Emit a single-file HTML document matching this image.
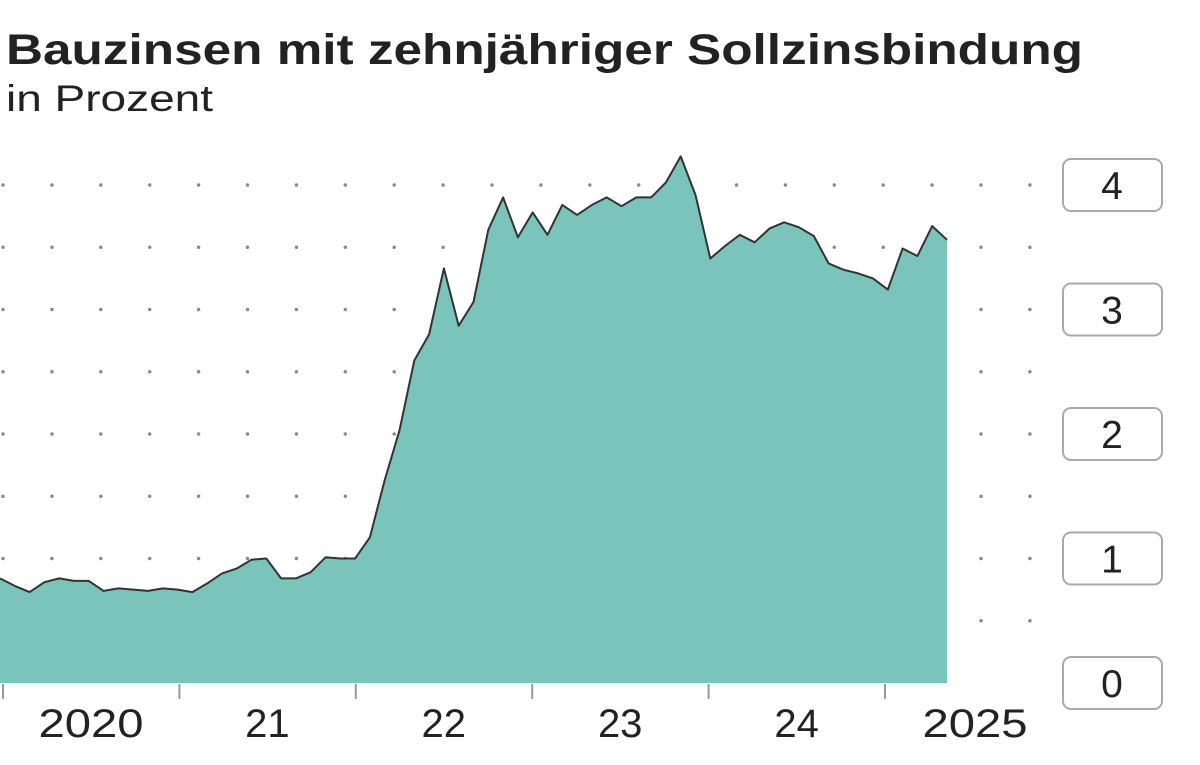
<!DOCTYPE html>
<html><head><meta charset="utf-8"><style>
html,body{margin:0;padding:0;background:#fff;width:1200px;height:765px;overflow:hidden}
svg{display:block;font-family:"Liberation Sans",sans-serif}
</style></head><body>
<svg id="chart" width="1200" height="765">
<text x="6" y="64" font-size="43" font-weight="bold" fill="#222" textLength="1077" lengthAdjust="spacingAndGlyphs">Bauzinsen mit zehnjähriger Sollzinsbindung</text>
<text x="6" y="111" font-size="37" fill="#222" textLength="207" lengthAdjust="spacingAndGlyphs">in Prozent</text>
<g id="grid"></g><g id="area"></g><g id="yaxis"></g><g id="xaxis"></g>
</svg>
<script>
const values=[0.84,0.78,0.73,0.81,0.84,0.82,0.82,0.74,0.76,0.75,0.74,0.76,0.75,0.73,0.80,0.88,0.92,0.99,1.00,0.84,0.84,0.89,1.01,1.00,1.00,1.17,1.63,2.03,2.59,2.80,3.33,2.87,3.06,3.64,3.90,3.58,3.78,3.60,3.84,3.76,3.84,3.90,3.83,3.90,3.90,4.02,4.23,3.92,3.41,3.51,3.60,3.54,3.65,3.70,3.66,3.59,3.37,3.32,3.29,3.25,3.16,3.49,3.43,3.67,3.56];
const yTicks=[0,1,2,3,4];
const gridVals=[0.5,1,1.5,2,2.5,3,3.5,4];
const xTickLabels=["2020","21","22","23","24","2025"];
const NS="http://www.w3.org/2000/svg";
const y=v=>683-v*124.5;
const x=i=>i*947/(values.length-1);
const xYear=k=>3+k*176.4;
function mk(tag,attrs,parent){const e=document.createElementNS(NS,tag);for(const k in attrs)e.setAttribute(k,attrs[k]);parent.appendChild(e);return e;}
const grid=document.getElementById('grid');
gridVals.forEach(v=>{const l=mk('line',{x1:3,x2:1060,y1:y(v),y2:y(v),stroke:'#8a8a8a','stroke-width':3.5,'stroke-linecap':'round','stroke-dasharray':'0 48.9'},grid);

});
const area=document.getElementById('area');
let d='M0,683 '+values.map((v,i)=>'L'+x(i).toFixed(1)+','+y(v).toFixed(1)).join(' ')+' L947,683 Z';
const a=mk('path',{d:d,fill:'#7bc4bb'},area);


const ln=mk('path',{d:'M'+values.map((v,i)=>x(i).toFixed(1)+','+y(v).toFixed(1)).join(' L'),fill:'none',stroke:'#333','stroke-width':2,'stroke-linejoin':'round'},area);


const ya=document.getElementById('yaxis');
yTicks.forEach(v=>{const g=mk('g',{},ya);


mk('rect',{x:1063,y:y(v)-26,width:99,height:52,rx:8,fill:'#fff',stroke:'#aaa','stroke-width':2},g);
const t=mk('text',{x:1112,y:y(v)+14,'font-size':39,'text-anchor':'middle',fill:'#222'},g);t.textContent=v;});
const xa=document.getElementById('xaxis');
for(let k=0;k<6;k++){const l=mk('line',{x1:xYear(k),x2:xYear(k),y1:684,y2:699,stroke:'#999','stroke-width':2},xa);

}
xTickLabels.forEach((s,k)=>{const t=mk('text',{x:k<5?xYear(k)+88:975,y:737,'font-size':40,'text-anchor':'middle',fill:'#222'},xa);t.textContent=s;
if(s.length===4){t.setAttribute('textLength','105');t.setAttribute('lengthAdjust','spacingAndGlyphs');}

});
</script>
</body></html>
